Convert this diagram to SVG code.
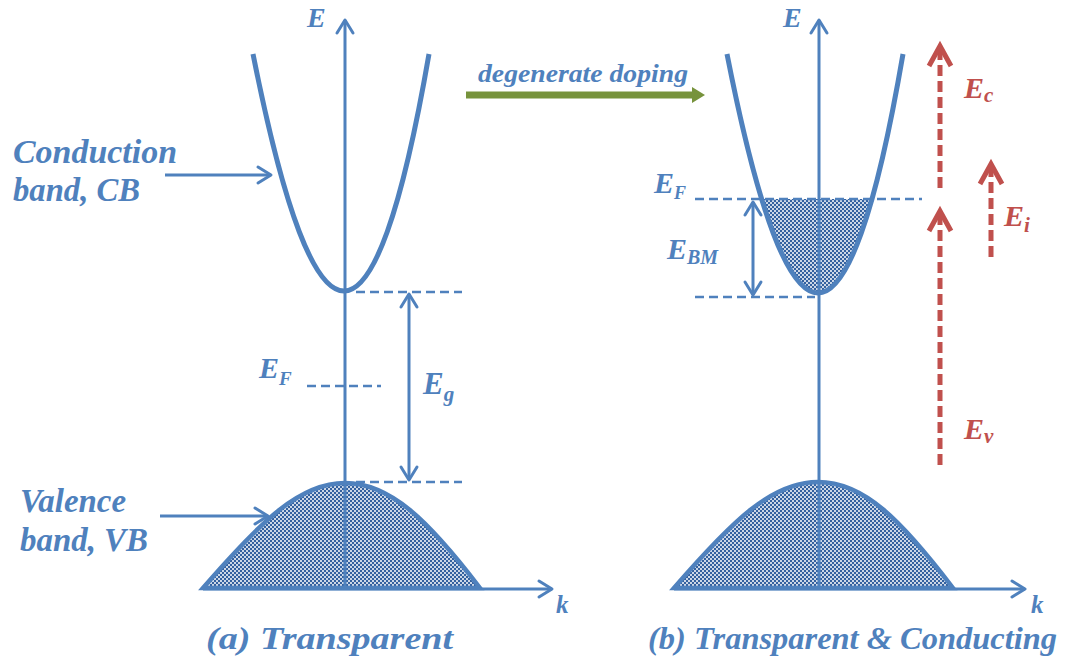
<svg xmlns="http://www.w3.org/2000/svg" width="1065" height="666" viewBox="0 0 1065 666">
<style>
.t{font-family:"Liberation Serif","Times New Roman",serif;font-weight:bold;font-style:italic;fill:#4f81bd}
.r{fill:#c0504d}
.ax{stroke:#4f81bd;stroke-width:3;fill:none}
.band{stroke:#4f81bd;stroke-width:5;fill:none}
.fill{fill:url(#dots);stroke:#4f81bd;stroke-width:4.5}
.dash{stroke:#4f81bd;stroke-width:2.6;stroke-dasharray:9 5;fill:none}
.rd{stroke:#c0504d;stroke-width:5;stroke-dasharray:11 5;fill:none}
</style>
<defs>
<pattern id="dots" width="4" height="4" patternUnits="userSpaceOnUse">
<rect width="4" height="4" fill="#34619f"/>
<circle cx="1" cy="1" r="1" fill="#ffffff"/>
<circle cx="3" cy="3" r="1" fill="#ffffff"/>
</pattern>
<marker id="chev" markerUnits="userSpaceOnUse" viewBox="-16 -10 18 20" refX="0" refY="0" markerWidth="18" markerHeight="20" orient="auto-start-reverse" overflow="visible">
<path d="M-13,-8 L0,0 L-13,8" fill="none" stroke="#4f81bd" stroke-width="3" stroke-linecap="round" stroke-linejoin="round"/>
</marker>
<marker id="rchev" markerUnits="userSpaceOnUse" viewBox="-24 -14 26 28" refX="0" refY="0" markerWidth="26" markerHeight="28" orient="auto" overflow="visible">
<path d="M-20,-11 L0,0 L-20,11" fill="none" stroke="#c0504d" stroke-width="5" stroke-linejoin="miter"/>
</marker>
<marker id="garr" markerUnits="userSpaceOnUse" viewBox="0 -9 14 18" refX="2" refY="0" markerWidth="14" markerHeight="18" orient="auto" overflow="visible">
<path d="M0,-8 L13,0 L0,8 Z" fill="#77933c"/>
</marker>
<clipPath id="fermi"><rect x="700" y="199" width="200" height="120"/></clipPath>
</defs>

<g id="panel-a-valence-band">
<path class="fill" d="M203,588 C262,520 300,483 345,483 C390,483 428,520 480,588 Z"/>
</g>
<g id="panel-b-valence-band">
<path class="fill" d="M674,588 C733,520 772,482 818,482 C864,482 901,520 953,588 Z"/>
</g>
<g id="panel-b-filled-states">
<path d="M727,54 Q821,532 903,54 Z" fill="url(#dots)" clip-path="url(#fermi)"/>
</g>

<g id="connectors">
<line class="ax" x1="345" y1="588" x2="345" y2="20" marker-end="url(#chev)"/>
<line class="ax" x1="203" y1="589" x2="552" y2="589" marker-end="url(#chev)"/>
<line class="ax" x1="819" y1="588" x2="819" y2="20" marker-end="url(#chev)"/>
<line class="ax" x1="674" y1="589" x2="1025" y2="589" marker-end="url(#chev)"/>
<line class="ax" x1="165" y1="175" x2="271" y2="175" marker-end="url(#chev)"/>
<line class="ax" x1="160" y1="516" x2="268" y2="516" marker-end="url(#chev)"/>
<line class="dash" x1="356" y1="292" x2="462" y2="292"/>
<line class="dash" x1="356" y1="482" x2="462" y2="482"/>
<line class="dash" x1="307" y1="386" x2="381" y2="386"/>
<line class="ax" x1="409" y1="294" x2="409" y2="480" marker-start="url(#chev)" marker-end="url(#chev)"/>
<line class="dash" x1="695" y1="199" x2="922" y2="199"/>
<line class="dash" x1="695" y1="297" x2="815" y2="297"/>
<line class="ax" x1="753" y1="202" x2="753" y2="295" marker-start="url(#chev)" marker-end="url(#chev)"/>
<line x1="466" y1="95" x2="694" y2="95" stroke="#77933c" stroke-width="7" marker-end="url(#garr)"/>
<line class="rd" x1="940" y1="188" x2="940" y2="46" marker-end="url(#rchev)"/>
<line class="rd" x1="940" y1="465" x2="940" y2="211" marker-end="url(#rchev)"/>
<line class="rd" x1="991" y1="257" x2="991" y2="164" marker-end="url(#rchev)"/>
</g>

<g id="panel-a-conduction-band">
<path class="band" d="M253,54 Q347,528 429,54"/>
</g>
<g id="panel-b-conduction-band">
<path class="band" d="M727,54 Q821,532 903,54"/>
</g>

<g id="labels">
<text class="t" x="307" y="27" font-size="28">E</text>
<text class="t" x="783" y="27" font-size="28">E</text>
<text class="t" x="556" y="613" font-size="25">k</text>
<text class="t" x="1031" y="613" font-size="25">k</text>
<text class="t" x="13" y="163" font-size="33" textLength="164" lengthAdjust="spacingAndGlyphs">Conduction</text>
<text class="t" x="13" y="201" font-size="33" textLength="127" lengthAdjust="spacingAndGlyphs">band, CB</text>
<text class="t" x="20" y="512" font-size="33" textLength="106" lengthAdjust="spacingAndGlyphs">Valence</text>
<text class="t" x="20" y="551" font-size="33" textLength="128" lengthAdjust="spacingAndGlyphs">band, VB</text>
<text class="t" x="259" y="378" font-size="30">E<tspan font-size="19" dy="7">F</tspan></text>
<text class="t" x="423" y="394" font-size="31">E<tspan font-size="21" dy="7">g</tspan></text>
<text class="t" x="654" y="193" font-size="30">E<tspan font-size="18" dy="6">F</tspan></text>
<text class="t" x="667" y="259" font-size="30">E<tspan font-size="20" dy="5">BM</tspan></text>
<text class="t" x="478" y="82" font-size="26" textLength="210" lengthAdjust="spacingAndGlyphs">degenerate doping</text>
<text class="t r" x="964" y="98" font-size="30">E<tspan font-size="21" dy="4">c</tspan></text>
<text class="t r" x="1004" y="226" font-size="30">E<tspan font-size="21" dy="6">i</tspan></text>
<text class="t r" x="964" y="439" font-size="30">E<tspan font-size="21" dy="4">v</tspan></text>
<text class="t" x="206" y="649" font-size="32" textLength="247" lengthAdjust="spacingAndGlyphs">(a) Transparent</text>
<text class="t" x="648" y="649" font-size="32" textLength="409" lengthAdjust="spacingAndGlyphs">(b) Transparent &amp; Conducting</text>
</g>
</svg>
